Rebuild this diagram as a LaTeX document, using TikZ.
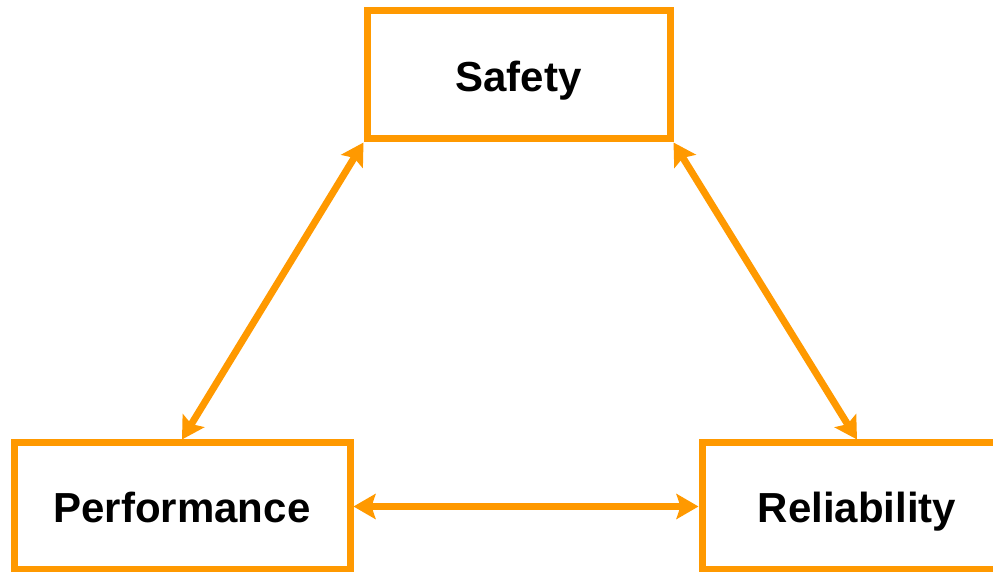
\documentclass[tikz,border=0pt]{standalone}
\usepackage{fontspec}
\setmainfont{Liberation Sans}
\usetikzlibrary{positioning, arrows.meta}
\definecolor{goal-orange}{RGB}{255,153,0}

\begin{document}
\begin{tikzpicture}[x=0.5pt, y=-0.5pt,
		goal/.style={draw=goal-orange, line width=3.5pt, fill=white, inner sep=0pt,
			minimum height=64pt, text height=16.5pt, text depth=0pt,
			font=\fontsize{21}{25}\selectfont\bfseries},
		link/.style={{Stealth[length=11pt, width=12.5pt, inset=2pt]}-{Stealth[length=11pt, width=12.5pt, inset=2pt]}, draw=goal-orange, line width=3.5pt}]
	\useasboundingbox (0,0) rectangle (993,572);
	\clip (0,0) rectangle (993,572);
	\node[goal, minimum width=151.5pt] (safety) at (518.5,75) {Safety};
	\node[goal, minimum width=168pt, minimum height=63.5pt] (perf) at (182,506.5) {Performance};
	\node[goal, minimum width=155pt, minimum height=63.5pt] (rel) at (857,506.5) {Reliability};
	\draw
	(safety.south west) edge[link] (perf.north)
	(safety.south east) edge[link] (rel.north)
	(perf.east) edge[link] (rel.west);
\end{tikzpicture}
\end{document}
